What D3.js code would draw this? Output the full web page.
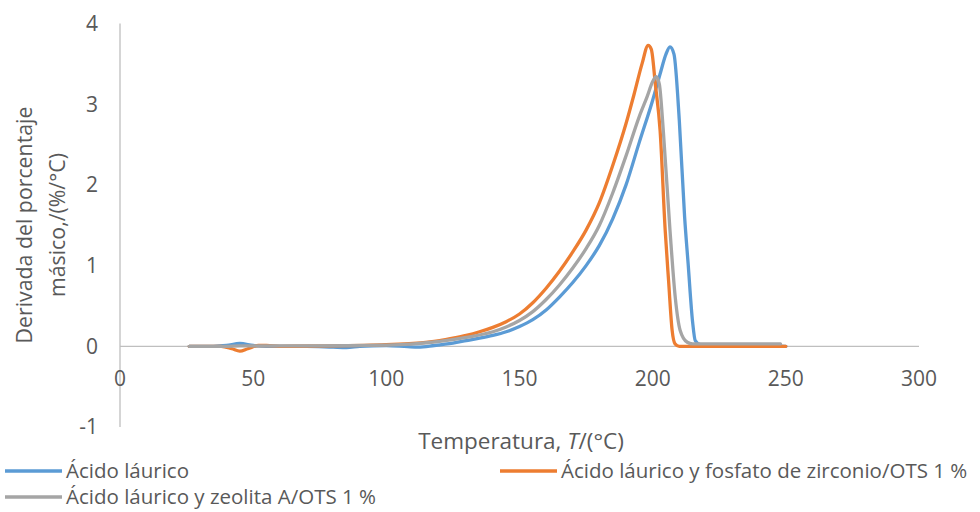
<!DOCTYPE html>
<html>
<head>
<meta charset="utf-8">
<script src="https://cdn.jsdelivr.net/npm/d3@7"></script>
<style>
  html, body { margin: 0; padding: 0; background: #fff; }
  svg text { font-family: "Open Sans", "DejaVu Sans", sans-serif; fill: #595959; }
</style>
</head>
<body>
<svg id="chart" width="980" height="512"></svg>
<script>
// DTG curves: derivative of mass percentage vs temperature
const xTicks = [0, 50, 100, 150, 200, 250, 300];
const yTicks = [-1, 0, 1, 2, 3, 4];

const seriesNames = [
  "Ácido láurico",
  "Ácido láurico y fosfato de zirconio/OTS 1 %",
  "Ácido láurico y zeolita A/OTS 1 %"
];
const seriesColors = ["#5B9BD5", "#ED7D31", "#A5A5A5"];

// Ácido láurico
const laurT = [26, 35, 40, 45, 50, 55, 70, 80, 85, 90, 100, 108, 112, 118, 125, 130, 135, 140, 145, 150, 155, 160, 165, 170, 175, 180, 185, 190, 195, 200, 203, 205, 206.5, 208, 210, 212, 213.3, 215, 216, 218, 225, 240, 250];
const laurV = [0, 0, 0.01, 0.035, 0.01, 0, 0, -0.01, -0.015, 0, 0.01, -0.005, -0.01, 0.01, 0.04, 0.07, 0.10, 0.135, 0.18, 0.245, 0.33, 0.45, 0.61, 0.79, 1.00, 1.25, 1.58, 2.0, 2.53, 3.05, 3.4, 3.62, 3.71, 3.62, 2.8, 1.6, 1.03, 0.3, 0.07, 0.02, 0.02, 0.01, 0.0];

// Ácido láurico y fosfato de zirconio/OTS 1 %
const zrT = [26, 38, 42, 45, 48, 52, 55, 60, 80, 100, 110, 120, 125, 130, 135, 140, 145, 150, 155, 160, 165, 170, 175, 180, 185, 190, 193, 196, 198.3, 199.5, 201, 202.8, 204.7, 206, 207.3, 208.4, 210, 230, 250];
const zrV = [0, 0, -0.03, -0.06, -0.03, 0.01, 0.01, 0, 0.005, 0.02, 0.035, 0.07, 0.10, 0.135, 0.18, 0.235, 0.305, 0.40, 0.54, 0.72, 0.93, 1.17, 1.44, 1.78, 2.24, 2.76, 3.12, 3.5, 3.73, 3.68, 3.25, 2.67, 1.44, 0.8, 0.2, 0.03, 0.0, 0.0, 0.0];

// Ácido láurico y zeolita A/OTS 1 %
const zeoT = [26, 40, 45, 50, 70, 100, 120, 130, 140, 145, 150, 155, 160, 165, 170, 175, 180, 185, 190, 195, 198, 200, 201.3, 202.5, 204, 206.5, 208.5, 210.3, 213, 215, 230, 248];
const zeoV = [0, 0, 0.005, 0.005, 0.005, 0.015, 0.06, 0.11, 0.18, 0.24, 0.32, 0.43, 0.58, 0.76, 0.97, 1.21, 1.50, 1.90, 2.36, 2.85, 3.1, 3.28, 3.34, 3.25, 2.67, 1.44, 0.6, 0.2, 0.05, 0.03, 0.03, 0.03];

const series = [
  { T: laurT, V: laurV },
  { T: zrT, V: zrV },
  { T: zeoT, V: zeoV }
];

const svg = d3.select("#chart");
const x = d3.scaleLinear().domain([0, 300]).range([120, 919]);
const y = d3.scaleLinear().domain([-1, 4]).range([427, 23.5]);
const axisColor = "#BFBFBF";

// vertical axis line at x = 0
svg.append("line")
  .attr("x1", x(0)).attr("x2", x(0))
  .attr("y1", y(4)).attr("y2", y(-1))
  .attr("stroke", axisColor).attr("stroke-width", 1.3);

// horizontal axis line crossing at y = 0
svg.append("line")
  .attr("x1", x(0)).attr("x2", x(300))
  .attr("y1", y(0)).attr("y2", y(0))
  .attr("stroke", axisColor).attr("stroke-width", 1.3);

// y tick labels
svg.append("g").selectAll("text").data(yTicks).join("text")
  .attr("x", x(0) - 22)
  .attr("y", d => y(d))
  .attr("dy", "0.35em")
  .attr("text-anchor", "end")
  .attr("font-size", 21)
  .text(d => d);

// x tick labels, just under the zero line
svg.append("g").selectAll("text").data(xTicks).join("text")
  .attr("x", d => x(d))
  .attr("y", y(0) + 32)
  .attr("dy", "0.35em")
  .attr("text-anchor", "middle")
  .attr("font-size", 21)
  .text(d => d);

// curves
const line = d3.line()
  .x(d => x(d[0]))
  .y(d => y(d[1]))
  .curve(d3.curveMonotoneX);

series.forEach((s, i) => {
  const pts = s.T.map((t, k) => [t, s.V[k]]);
  svg.append("path")
    .datum(pts)
    .attr("d", line)
    .attr("fill", "none")
    .attr("stroke", seriesColors[i])
    .attr("stroke-width", 3.3)
    .attr("stroke-linejoin", "round")
    .attr("stroke-linecap", "round");
});

// y axis title (two lines)
const yTitle = svg.append("g").attr("transform", "translate(0,225) rotate(-90)");
yTitle.append("text")
  .attr("x", 0).attr("y", 25).attr("dy", "0.35em")
  .attr("text-anchor", "middle").attr("font-size", 21.3)
  .text("Derivada del porcentaje");
yTitle.append("text")
  .attr("x", 0).attr("y", 58).attr("dy", "0.35em")
  .attr("text-anchor", "middle").attr("font-size", 21.3)
  .text("másico,/(%/°C)");

// x axis title
const xTitle = svg.append("text")
  .attr("x", 521).attr("y", 441).attr("dy", "0.35em")
  .attr("text-anchor", "middle").attr("font-size", 22.5);
xTitle.append("tspan").text("Temperatura, ");
xTitle.append("tspan").attr("font-style", "italic").text("T");
xTitle.append("tspan").text("/(°C)");

// legend
const legendItems = [
  { i: 0, x: 5, y: 471 },
  { i: 1, x: 500, y: 471 },
  { i: 2, x: 5, y: 497 }
];
legendItems.forEach(item => {
  svg.append("line")
    .attr("x1", item.x).attr("x2", item.x + 57)
    .attr("y1", item.y).attr("y2", item.y)
    .attr("stroke", seriesColors[item.i]).attr("stroke-width", 3.3);
  svg.append("text")
    .attr("x", item.x + 61).attr("y", item.y).attr("dy", "0.35em")
    .attr("font-size", 20.5)
    .text(seriesNames[item.i]);
});
</script>
</body>
</html>
